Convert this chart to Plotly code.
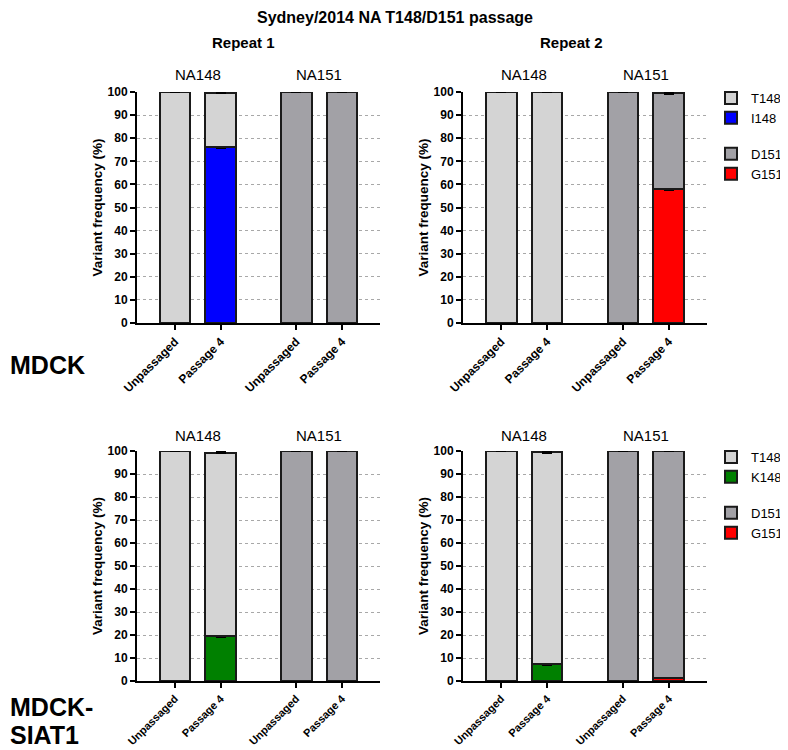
import plotly.graph_objects as go

# ---------------- data ----------------
categories = ["Unpassaged", "Passage 4"]
groups = ["NA148", "NA151"]
repeats = ["Repeat 1", "Repeat 2"]
cell_lines = ["MDCK", "MDCK-SIAT1"]

# MDCK row
mdck_r1_I148 = [0, 76.1]
mdck_r1_T148 = [100, 23.5]
mdck_r1_G151 = [0, 0]
mdck_r1_D151 = [100, 100]
mdck_r1_err_I148 = [0, 0.4]
mdck_r1_err_T148 = [0, 0.3]
mdck_r1_err_G151 = [0, 0]
mdck_r1_err_D151 = [0, 0]

mdck_r2_I148 = [0, 0]
mdck_r2_T148 = [100, 100]
mdck_r2_G151 = [0, 58.1]
mdck_r2_D151 = [100, 41.4]
mdck_r2_err_I148 = [0, 0]
mdck_r2_err_T148 = [0, 0]
mdck_r2_err_G151 = [0, 0.6]
mdck_r2_err_D151 = [0, 0.3]

# MDCK-SIAT1 row
siat_r1_K148 = [0, 19.6]
siat_r1_T148 = [100, 79.7]
siat_r1_G151 = [0, 0]
siat_r1_D151 = [100, 100]
siat_r1_err_K148 = [0, 0.6]
siat_r1_err_T148 = [0, 0.3]
siat_r1_err_G151 = [0, 0]
siat_r1_err_D151 = [0, 0]

siat_r2_K148 = [0, 7.5]
siat_r2_T148 = [100, 92.0]
siat_r2_G151 = [0, 1.2]
siat_r2_D151 = [100, 98.8]
siat_r2_err_K148 = [0, 0.5]
siat_r2_err_T148 = [0, 0.3]
siat_r2_err_G151 = [0, 0.1]
siat_r2_err_D151 = [0, 0]

# ---------------- style ----------------
FONT = "Liberation Sans, Arial, sans-serif"
C_T148 = "#D4D4D4"
C_D151 = "#A2A1A6"
C_I148 = "#0000FF"
C_K148 = "#008000"
C_G151 = "#FF0000"
OUTLINE = "#1A1A1A"

# the page body has an 8px default margin; size the figure to fill the rest
PAGE_OFF = 8
W, H = 788 - PAGE_OFF, 750 - PAGE_OFF
def px(x):
    return (x - PAGE_OFF) / W
def py(y):
    return 1 - (y - PAGE_OFF) / H

x_domains = [[px(137), px(380)], [px(463), px(707)]]
y_domains = [[py(323), py(92)], [py(681), py(451)]]
xtick_sizes = [12, 11]

GROUP_STEP = 2.65
BAR_W = 0.67
def positions(g):
    return [g * GROUP_STEP + c for c in range(len(categories))]

def nz(vals):
    return [v if v > 0 else None for v in vals]

panels = [
    # row, col, series list: (name, values, errors, color, group index, legend rank)
    (0, 0, [("I148", mdck_r1_I148, mdck_r1_err_I148, C_I148, 0, 2),
            ("T148", mdck_r1_T148, mdck_r1_err_T148, C_T148, 0, 1),
            ("G151", mdck_r1_G151, mdck_r1_err_G151, C_G151, 1, 4),
            ("D151", mdck_r1_D151, mdck_r1_err_D151, C_D151, 1, 3)]),
    (0, 1, [("I148", mdck_r2_I148, mdck_r2_err_I148, C_I148, 0, 2),
            ("T148", mdck_r2_T148, mdck_r2_err_T148, C_T148, 0, 1),
            ("G151", mdck_r2_G151, mdck_r2_err_G151, C_G151, 1, 4),
            ("D151", mdck_r2_D151, mdck_r2_err_D151, C_D151, 1, 3)]),
    (1, 0, [("K148", siat_r1_K148, siat_r1_err_K148, C_K148, 0, 2),
            ("T148", siat_r1_T148, siat_r1_err_T148, C_T148, 0, 1),
            ("G151", siat_r1_G151, siat_r1_err_G151, C_G151, 1, 4),
            ("D151", siat_r1_D151, siat_r1_err_D151, C_D151, 1, 3)]),
    (1, 1, [("K148", siat_r2_K148, siat_r2_err_K148, C_K148, 0, 2),
            ("T148", siat_r2_T148, siat_r2_err_T148, C_T148, 0, 1),
            ("G151", siat_r2_G151, siat_r2_err_G151, C_G151, 1, 4),
            ("D151", siat_r2_D151, siat_r2_err_D151, C_D151, 1, 3)]),
]

fig = go.Figure()
layout_axes = {}
annotations = []
all_pos = positions(0) + positions(1)
ticktext = categories * len(groups)

for i, (r, c, series) in enumerate(panels):
    n = i + 1
    xa = "x" if n == 1 else f"x{n}"
    ya = "y" if n == 1 else f"y{n}"
    xkey = "xaxis" if n == 1 else f"xaxis{n}"
    ykey = "yaxis" if n == 1 else f"yaxis{n}"
    legend_name = "legend" if r == 0 else "legend2"
    for name, vals, errs, color, g, rank in series:
        fig.add_trace(go.Bar(
            x=positions(g), y=nz(vals), name=name,
            width=BAR_W,
            marker=dict(color=color, line=dict(color=OUTLINE, width=2)),
            error_y=dict(type="data", array=[e if e > 0 else None for e in errs],
                         visible=True, color="black", thickness=1.6, width=5),
            xaxis=xa, yaxis=ya,
            showlegend=(c == 0),
            legend=legend_name,
            legendgroup=f"r{r}_g{g}",
            legendrank=rank,
            cliponaxis=False,
            hovertemplate=f"{name}: %{{y}}%<extra></extra>",
        ))
    layout_axes[xkey] = dict(
        domain=x_domains[c], anchor=ya, range=[-0.83, 4.48], automargin=False,
        tickmode="array", tickvals=all_pos, ticktext=ticktext,
        tickangle=-45, ticks="outside", ticklen=5, tickwidth=2, tickcolor="black",
        showline=True, linewidth=2, linecolor="black",
        showgrid=False, zeroline=False,
        tickfont=dict(family=FONT, size=xtick_sizes[r], color="black", weight="bold"),
    )
    layout_axes[ykey] = dict(
        domain=y_domains[r], anchor=xa, range=[0, 100], dtick=10, automargin=False,
        ticks="outside", ticklen=5, tickwidth=2, tickcolor="black",
        showline=True, linewidth=2, linecolor="black",
        showgrid=True, gridcolor="#A8A8A8", griddash="3px,3px", gridwidth=1,
        zeroline=False,
        tickfont=dict(family=FONT, size=12, color="black", weight="bold"),
        title=dict(text="Variant frequency (%)", standoff=2,
                   font=dict(family=FONT, size=13.5, color="black", weight="bold")),
    )
    # group labels
    for g, gname in enumerate(groups):
        annotations.append(dict(
            text=gname, xref=xa, yref="paper",
            x=sum(positions(g)) / len(categories),
            y=py(75 if r == 0 else 435), xanchor="center", yanchor="middle",
            showarrow=False, font=dict(family=FONT, size=15, color="black")))

# repeat titles
for c, rep in enumerate(repeats):
    annotations.append(dict(
        text=f"<b>{rep}</b>", xref="paper", yref="paper",
        x=px([244, 571][c]), y=py(42), xanchor="center", yanchor="middle",
        showarrow=False, font=dict(family=FONT, size=15, color="black")))

# row labels
annotations.append(dict(
    text="<b>MDCK</b>", xref="paper", yref="paper", x=0, y=py(365),
    xanchor="left", yanchor="middle", showarrow=False,
    font=dict(family=FONT, size=25, color="black")))
annotations.append(dict(
    text="<b>MDCK-</b>", xref="paper", yref="paper", x=0, y=py(707),
    xanchor="left", yanchor="middle", showarrow=False,
    font=dict(family=FONT, size=25, color="black")))
annotations.append(dict(
    text="<b>SIAT1</b>", xref="paper", yref="paper", x=0, y=py(735),
    xanchor="left", yanchor="middle", showarrow=False,
    font=dict(family=FONT, size=25, color="black")))

fig.update_layout(
    width=W, height=H,
    margin=dict(l=0, r=0, t=0, b=0, autoexpand=False),
    paper_bgcolor="white", plot_bgcolor="white",
    barmode="stack",
    title=dict(text="<b>Sydney/2014 NA T148/D151 passage</b>",
               x=px(395), y=py(17), xanchor="center", yanchor="middle",
               font=dict(family=FONT, size=16, color="black")),
    font=dict(family=FONT, color="black"),
    legend=dict(x=px(711), y=py(83), xanchor="left", yanchor="top",
                traceorder="grouped", tracegroupgap=16,
                font=dict(family=FONT, size=13, color="black"),
                bgcolor="rgba(0,0,0,0)", itemclick=False),
    legend2=dict(x=px(711), y=py(442), xanchor="left", yanchor="top",
                 traceorder="grouped", tracegroupgap=16,
                 font=dict(family=FONT, size=13, color="black"),
                 bgcolor="rgba(0,0,0,0)", itemclick=False),
    annotations=annotations,
    **layout_axes,
)

fig.write_html("out.html")
